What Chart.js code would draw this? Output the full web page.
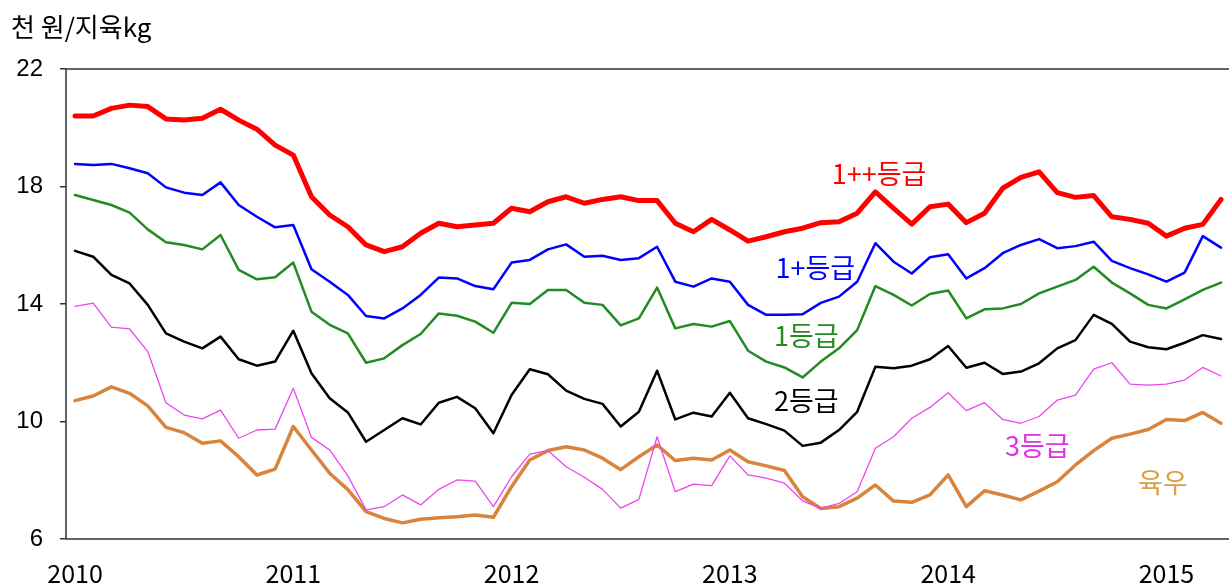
<!DOCTYPE html>
<html>
<head>
<meta charset="utf-8">
<script src="https://cdn.jsdelivr.net/npm/chart.js@4.4.1/dist/chart.umd.min.js"></script>
<style>
    body { margin: 0; background: #fff; }
    #contenedor { width: 1229px; height: 587px; position: relative; }
</style>
</head>
<body>
<div id="contenedor"><canvas id="myChart"></canvas></div>
<script>
// precios mensuales, ene 2010 - abr 2015 (천 원/지육kg)
const anios = ['2010', '2011', '2012', '2013', '2014', '2015']
const nombres = ['1++등급', '1+등급', '1등급', '2등급', '3등급', '육우']

const grado1pp = [20.4, 20.4, 20.66, 20.77, 20.72, 20.3, 20.26, 20.32, 20.63, 20.26, 19.95, 19.41, 19.07, 17.65, 17.03, 16.63,
    16.01, 15.78, 15.95, 16.41, 16.75, 16.63, 16.69, 16.75, 17.26, 17.14, 17.48, 17.65, 17.43, 17.56, 17.65, 17.52,
    17.52, 16.75, 16.46, 16.88, 16.52, 16.14, 16.29, 16.46, 16.58, 16.77, 16.8, 17.09, 17.82, 17.26, 16.72,
    17.31, 17.4, 16.77, 17.09, 17.94, 18.31, 18.5, 17.79, 17.63, 17.69, 16.97, 16.88, 16.75, 16.31, 16.58, 16.71, 17.56]
const grado1p = [18.77, 18.73, 18.77, 18.62, 18.45, 17.97, 17.79, 17.71, 18.14, 17.37, 16.97, 16.61, 16.69, 15.18, 14.76, 14.31,
    13.59, 13.51, 13.85, 14.31, 14.9, 14.87, 14.61, 14.5, 15.41, 15.5, 15.86, 16.03, 15.61, 15.64, 15.5, 15.56,
    15.95, 14.76, 14.59, 14.87, 14.76, 13.97, 13.63, 13.63, 13.65, 14.04, 14.25, 14.76, 16.07, 15.44, 15.04,
    15.59, 15.69, 14.87, 15.22, 15.73, 16.01, 16.21, 15.9, 15.97, 16.12, 15.47, 15.22, 15.01, 14.76, 15.07, 16.31, 15.92]
const grado1 = [17.71, 17.54, 17.37, 17.11, 16.54, 16.1, 16.01, 15.86, 16.35, 15.16, 14.84, 14.91, 15.41, 13.74, 13.29, 13.0,
    12.0, 12.15, 12.6, 12.98, 13.68, 13.6, 13.4, 13.02, 14.04, 14.0, 14.48, 14.48, 14.04, 13.97, 13.27, 13.51,
    14.56, 13.17, 13.32, 13.23, 13.42, 12.41, 12.04, 11.84, 11.5, 12.04, 12.49, 13.11, 14.61, 14.31, 13.95,
    14.34, 14.46, 13.51, 13.82, 13.85, 14.0, 14.36, 14.59, 14.82, 15.27, 14.73, 14.36, 13.97, 13.85, 14.16, 14.48, 14.73]
const grado2 = [15.81, 15.61, 14.99, 14.7, 13.97, 13.0, 12.72, 12.49, 12.89, 12.12, 11.9, 12.04, 13.09, 11.64, 10.79, 10.31,
    9.31, 9.71, 10.11, 9.9, 10.64, 10.84, 10.45, 9.6, 10.9, 11.78, 11.61, 11.05, 10.77, 10.6, 9.83, 10.33,
    11.73, 10.07, 10.3, 10.17, 10.98, 10.11, 9.91, 9.69, 9.17, 9.28, 9.71, 10.33, 11.86, 11.81, 11.9,
    12.12, 12.57, 11.83, 12.0, 11.62, 11.7, 11.98, 12.49, 12.77, 13.63, 13.32, 12.72, 12.53, 12.46, 12.68, 12.94, 12.81]
const grado3 = [13.92, 14.03, 13.21, 13.15, 12.38, 10.64, 10.22, 10.09, 10.39, 9.43, 9.71, 9.74, 11.13, 9.46, 9.03, 8.15,
    6.99, 7.1, 7.5, 7.16, 7.69, 8.01, 7.97, 7.1, 8.12, 8.89, 9.01, 8.46, 8.1, 7.69, 7.05, 7.35,
    9.48, 7.61, 7.87, 7.82, 8.83, 8.18, 8.07, 7.9, 7.3, 7.04, 7.21, 7.61, 9.09, 9.48, 10.11,
    10.48, 10.98, 10.37, 10.64, 10.07, 9.94, 10.17, 10.73, 10.9, 11.78, 12.0, 11.27, 11.24, 11.27, 11.41, 11.84, 11.55]
const novillo = [10.71, 10.87, 11.18, 10.96, 10.53, 9.8, 9.62, 9.26, 9.34, 8.8, 8.18, 8.38, 9.83, 9.03, 8.24, 7.68,
    6.93, 6.7, 6.55, 6.67, 6.72, 6.76, 6.82, 6.74, 7.78, 8.69, 9.01, 9.14, 9.03, 8.75, 8.36, 8.8,
    9.2, 8.67, 8.75, 8.69, 9.03, 8.63, 8.49, 8.33, 7.44, 7.04, 7.1, 7.39, 7.84, 7.29, 7.25,
    7.5, 8.18, 7.1, 7.64, 7.5, 7.33, 7.63, 7.95, 8.52, 9.01, 9.43, 9.57, 9.73, 10.07, 10.03, 10.31, 9.94]

const ticksY = [6, 10, 14, 18, 22]

// etiqueta de cada mes: "2010-01" ...
let meses = []
for (let a of anios) {
    for (let m = 1; m <= 12; m++) {
        if (meses.length < grado1pp.length) meses.push(`${a}-${String(m).padStart(2, '0')}`)
    }
}

function puntos(serie) {
    return serie.map((v, i) => ({ x: i, y: v }))
}

function grafico() {
    const series = [grado1pp, grado1p, grado1, grado2, grado3, novillo]
    const colores = ['#ff0000', '#0000ff', '#228b22', '#000000', '#ee44ee', '#d9843c']
    const grosores = [5, 2.5, 2.5, 2.5, 1.3, 3.5]

    let datasets = series.map((s, i) => ({
        label: nombres[i],
        data: puntos(s),
        borderColor: colores[i],
        borderWidth: grosores[i],
        pointRadius: 0,
        tension: 0,
        fill: false,
        borderJoinStyle: 'round',
        borderCapStyle: 'round',
        order: i
    }))

    // textos de cada serie, en coordenadas del grafico
    const etiquetas = [
        { texto: '1++등급', color: '#ff0000', x: 44.2, y: 18.43 },
        { texto: '1+등급', color: '#0000ff', x: 40.7, y: 15.23 },
        { texto: '1등급', color: '#228b22', x: 40.2, y: 12.92 },
        { texto: '2등급', color: '#000000', x: 40.2, y: 10.7 },
        { texto: '3등급', color: '#e030e0', x: 52.9, y: 9.17 },
        { texto: '육우', color: '#d9a040', x: 59.8, y: 7.9 }
    ]

    const marco = {
        id: 'marco',
        afterDraw(chart) {
            const { ctx, chartArea: a } = chart
            ctx.save()
            ctx.strokeStyle = '#333'
            ctx.lineWidth = 1.5
            ctx.beginPath()
            ctx.moveTo(a.left, a.bottom)
            ctx.lineTo(a.left, a.top)
            ctx.lineTo(a.right, a.top)
            ctx.moveTo(a.left, a.bottom)
            ctx.lineTo(a.right, a.bottom)
            ctx.stroke()

            ctx.fillStyle = '#000'
            ctx.font = '26px "Noto Sans CJK KR"'
            ctx.textBaseline = 'middle'
            ctx.textAlign = 'left'
            ctx.fillText('천 원/지육kg', 11, 27)

            ctx.font = '27px "Noto Sans CJK KR"'
            ctx.textAlign = 'center'
            for (let e of etiquetas) {
                ctx.fillStyle = e.color
                ctx.fillText(e.texto, chart.scales.x.getPixelForValue(e.x), chart.scales.y.getPixelForValue(e.y))
            }
            ctx.restore()
        }
    }

    let config = {
        type: 'line',
        data: { labels: meses, datasets },
        options: {
            responsive: true,
            maintainAspectRatio: false,
            animation: false,
            layout: { padding: { left: 0, right: 0, top: 69, bottom: 0 } },
            plugins: { legend: { display: false }, tooltip: { enabled: false } },
            scales: {
                x: {
                    type: 'linear',
                    min: -0.495,
                    max: 63.44,
                    afterBuildTicks: (scale) => {
                        scale.ticks = anios.map((a, i) => ({ value: i * 12 }))
                    },
                    afterFit: (scale) => { scale.height = 48 },
                    grid: { display: false, drawTicks: false },
                    border: { display: false },
                    ticks: {
                        autoSkip: false,
                        maxRotation: 0,
                        padding: 19,
                        color: '#000',
                        font: { family: '"Noto Sans CJK KR"', size: 25 },
                        callback: (v) => anios[v / 12]
                    }
                },
                y: {
                    min: 6,
                    max: 22,
                    afterBuildTicks: (scale) => {
                        scale.ticks = ticksY.map(v => ({ value: v }))
                    },
                    afterFit: (scale) => { scale.width = 66 },
                    grid: { drawOnChartArea: false, drawTicks: true, tickLength: 6, color: '#333', lineWidth: 1.5 },
                    border: { display: false },
                    ticks: {
                        padding: 17,
                        crossAlign: 'near',
                        color: '#000',
                        font: { family: '"Liberation Sans", Arial', size: 24 }
                    }
                }
            }
        },
        plugins: [marco]
    }

    new Chart(document.getElementById('myChart'), config)
}

grafico()
</script>
</body>
</html>
